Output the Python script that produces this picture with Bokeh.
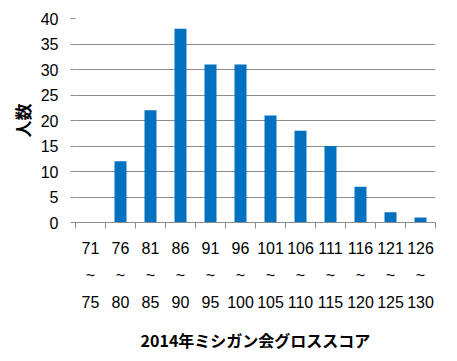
from bokeh.plotting import figure
from bokeh.models import Range1d, LinearAxis, FixedTicker, ColumnDataSource
from bokeh.embed import file_html
from bokeh.resources import INLINE

lows = [71, 76, 81, 86, 91, 96, 101, 106, 111, 116, 121, 126]
highs = [75, 80, 85, 90, 95, 100, 105, 110, 115, 120, 125, 130]
counts = [0, 12, 22, 38, 31, 31, 21, 18, 15, 7, 2, 1]
y_ticks = [0, 5, 10, 15, 20, 25, 30, 35, 40]
x_title = "2014年ミシガン会グロススコア"
y_title = "人数"

labels = [f"{a}\n~\n{b}" for a, b in zip(lows, highs)]
n = len(labels)
centers = [2 * i + 1 for i in range(n)]      # category slot centers
edges = [2 * i for i in range(n + 1)]        # category slot boundaries

GRID = "#8c8c8c"
NUM_FONT = "Liberation Sans"
CJK_FONT = "Noto Sans CJK JP"

p = figure(frame_width=360, frame_height=204, x_range=Range1d(0, 2 * n),
           y_range=Range1d(0, 40), output_backend="svg", toolbar_location=None,
           x_axis_location=None,
           min_border_left=75, min_border_right=6, min_border_top=18,
           min_border_bottom=10)
p.outline_line_color = None
p.background_fill_color = "white"
p.border_fill_color = "white"

src = ColumnDataSource(dict(x=centers, count=counts))
p.vbar(x="x", top="count", width=0.8, source=src,
       fill_color="#0070C0", line_color=None)

p.xgrid.visible = False
p.ygrid.grid_line_color = GRID
p.ygrid.grid_line_width = 1

yax = p.yaxis[0]
yax.ticker = FixedTicker(ticks=y_ticks)
yax.axis_line_color = None
yax.major_tick_out = 5
yax.major_tick_in = 0
yax.major_tick_line_color = GRID
yax.minor_tick_line_color = None
yax.major_label_text_font = NUM_FONT
yax.major_label_text_font_size = "16px"
yax.major_label_text_color = "#000000"
yax.major_label_standoff = 12
yax.axis_label = y_title
yax.axis_label_text_font = CJK_FONT
yax.axis_label_text_font_style = "bold"
yax.axis_label_text_font_size = "17px"
yax.axis_label_text_color = "#000000"
yax.axis_label_standoff = 3

tick_axis = LinearAxis(ticker=FixedTicker(ticks=edges),
                       major_label_overrides={e: "" for e in edges},
                       axis_line_color=GRID, major_tick_line_color=GRID,
                       major_tick_out=6, major_tick_in=0,
                       minor_tick_line_color=None,
                       major_label_text_font_size="1px",
                       major_label_standoff=0)
p.add_layout(tick_axis, "below")

label_axis = LinearAxis(ticker=FixedTicker(ticks=centers),
                        major_label_overrides={c: lab for c, lab in zip(centers, labels)},
                        axis_line_color=None, major_tick_line_color=None,
                        minor_tick_line_color=None,
                        major_tick_out=0, major_tick_in=0,
                        major_label_text_font=NUM_FONT,
                        major_label_text_font_size="16px",
                        major_label_text_color="#000000",
                        major_label_text_line_height=1.6,
                        major_label_standoff=11,
                        axis_label=x_title,
                        axis_label_text_font=CJK_FONT,
                        axis_label_text_font_style="bold",
                        axis_label_text_font_size="16px",
                        axis_label_text_color="#000000",
                        axis_label_standoff=14)
p.add_layout(label_axis, "below")

open("out.html", "w").write(file_html(p, INLINE))
